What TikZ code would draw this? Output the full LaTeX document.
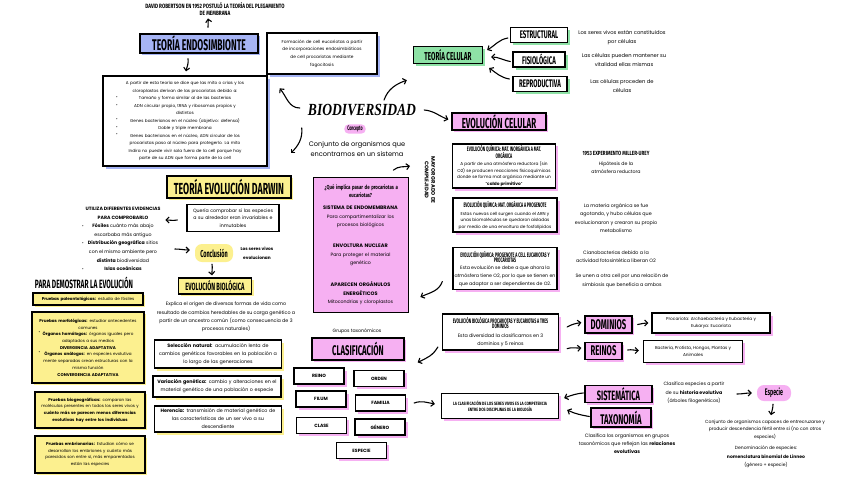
\documentclass[tikz,border=0pt]{standalone}
\usepackage{fontspec}
\setmainfont{Poppins}
\newfontfamily\cond{Fira Sans}[FakeStretch=0.55]
\newfontfamily\condw{Fira Sans}[FakeStretch=0.75]
\newfontfamily\biof{Liberation Serif}[FakeStretch=0.8]
\newfontfamily\dejav{DejaVu Sans}
\usetikzlibrary{arrows.meta,shadows,calc}
\definecolor{bluec}{HTML}{A6B4F5}
\definecolor{greenc}{HTML}{8EE2A6}
\definecolor{yellowc}{HTML}{FCF08F}
\definecolor{pinkc}{HTML}{F6B0F2}
\newcommand\fs[2]{\fontsize{#1}{#2}\selectfont}
\newcommand\boxtitle{\cond\bfseries\fs{6.5}{6.5}}
\newcommand\boxbody{\normalfont\fs{4.3}{6.5}}
\newcommand\bul{{\dejav •}}
\tikzset{
  wbox/.style={draw=black, line width=1.3pt, fill=white, inner sep=2pt, align=center},
  sh/.style={drop shadow={fill=#1,opacity=1,shadow xshift=2.5pt,shadow yshift=-2.5pt}},
  cbox/.style={draw=black, line width=1.3pt, fill=#1, inner sep=1pt, align=center,
     drop shadow={fill=#1,opacity=1,shadow xshift=2pt,shadow yshift=-2pt}},
  arr/.style={-{Straight Barb[length=3pt,width=6pt]}, line width=1.1pt, line cap=round},
  txt/.style={align=center, inner sep=0pt},
  bulnode/.style={inner sep=0pt, font=\fs{3.5}{4}},
  taxbox/.style={wbox, sh=pinkc, minimum width=50, minimum height=16, inner sep=1pt, font=\bfseries\fs{4.6}{5}},
  bigt/.style={font=\cond\bfseries\fs{#1}{#1}},
}
\begin{document}
\begin{tikzpicture}[x=1pt,y=-1pt]
\useasboundingbox (0,0) rectangle (848,477);
\fill[white] (0,0) rectangle (848,477);

% ---------- Teoria endosimbionte ----------
\node[txt,font=\condw\bfseries\fs{6.2}{7.6}] (rob) at (215,9) {DAVID ROBERTSON EN 1952 POSTULÓ LA TEORÍA DEL PLEGAMIENTO\\DE MEMBRANA};
\node[cbox=bluec, minimum width=118, minimum height=19, bigt=15.5] (endo) at (199,43.5) {TEORÍA ENDOSIMBIONTE};
\node[wbox, sh=bluec, minimum width=164, minimum height=90, text width=158, font=\fs{4.2}{7.5}] (endob) at (185,121)
 {A partir de esta teoría se dice que las mito o crias y los\\cloroplastos derivan de las procariotas debido a:\\Tamaño y forma similar al de las bacterias\\ADN circular propio, tRNA y ribosomas propios y\\distintos\\Genes bacterianos en el núcleo (objetivo: defensa)\\Doble y triple membrana\\Genes bacterianos en el núcleo, ADN circular de los\\procariotas paso al núcleo para protegerlo. La mito\\Indira no puede vivir sola fuera de la cell porque hay\\parte de su ADN que forma parte de la cell};
\foreach \i/\yy in {1/97.7,2/105.3,3/119.3,4/127.3,5/135}
  \node[bulnode] (eb\i) at (117,\yy) {\bul};
\node[wbox, sh=bluec, minimum width=110, minimum height=41, text width=104, font=\fs{4.3}{7.6}] (form) at (322,53.5)
 {Formación de cell eucariotas a partir\\de incorporaciones endosimbióticos\\de cell procariotas mediante\\fagocitosis};

% ---------- centre ----------
\node[txt, font=\biof\bfseries\itshape\fs{17}{17}] (bio) at (362,110) {BIODIVERSIDAD};
\node[fill=pinkc, rounded corners=4pt, inner xsep=3pt, inner ysep=1.5pt, font=\cond\bfseries\fs{6.5}{6.5}] (conc) at (355,129) {Concepto};
\node[txt, font=\fs{6.6}{10}] (conj) at (357,149) {Conjunto de organismos que\\encontramos en un sistema};

% ---------- Teoria celular ----------
\node[cbox=greenc, minimum width=69, minimum height=17, bigt=11.5] (tcel) at (448,55) {TEORÍA CELULAR};
\node[wbox, sh=greenc, minimum width=57, minimum height=15, inner sep=1pt, bigt=11] (estr) at (539,35) {ESTRUCTURAL};
\node[wbox, sh=greenc, minimum width=52, minimum height=15, inner sep=1pt, bigt=11] (fisi) at (539,59.5) {FISIOLÓGICA};
\node[wbox, sh=greenc, minimum width=54, minimum height=15, inner sep=1pt, bigt=11] (repr) at (540,84) {REPRODUCTIVA};
\node[txt, font=\fs{5.2}{9}] (t1) at (622,37.5) {Los seres vivos están constituidos\\por células};
\node[txt, font=\fs{5.2}{9}] (t2) at (624,59.5) {Las células pueden mantener su\\vitalidad ellas mismas};
\node[txt, font=\fs{5.2}{9}] (t3) at (622,85.5) {Las células proceden de\\células};

% ---------- Evolucion celular ----------
\node[cbox=pinkc, minimum width=94, minimum height=17, bigt=14.5] (evc) at (499,121.5) {EVOLUCIÓN CELULAR};
\node[wbox, sh=pinkc, minimum width=103, minimum height=44, inner sep=1.5pt, font=\boxbody] (ba) at (504,166)
 {\boxtitle EVOLUCIÓN QUÍMICA: MAT. INORGÁNICA A MAT.\\[-1.5pt]\boxtitle ORGÁNICA\\[1.2pt]\boxbody A partir de una atmósfera reductora (sin\\O2) se producen reacciones fisicoquímicas\\donde se forma mat orgánica mediante un\\“\textbf{caldo primitivo}”};
\node[wbox, sh=pinkc, minimum width=104, minimum height=34, inner sep=1.5pt, font=\boxbody] (bb) at (505,215)
 {\boxtitle EVOLUCIÓN QUÍMICA: MAT. ORGÁNICA A PROGENOTE\\[1.5pt]\boxbody Estas nuevas cell surgen cuando el ARN y\\unas biomoléculas se quedaron aisladas\\por medio de una envoltura de fosfolípidos};
\node[wbox, sh=pinkc, minimum width=104, minimum height=42, inner sep=1.5pt, font=\normalfont\fs{4.7}{8}] (bc) at (505,268.5)
 {\boxtitle EVOLUCIÓN QUÍMICA: PROGENOTE A CELL EUCARIOTAS Y\\[-3pt]\boxtitle PROCARIOTAS\\[-1pt]\normalfont\fs{4.7}{8}Esta evolución se debe a que ahora la\\atmósfera tiene O2, por lo que se tienen en\\que adaptar a ser dependientes de O2.};
\node[wbox, sh=pinkc, minimum width=116, minimum height=36, inner sep=1.5pt, font=\normalfont\fs{4.8}{7.5}] (bd) at (500.5,332)
 {\boxtitle EVOLUCIÓN BIOLÓGICA PROCARIOTAS Y EUCARIOTAS A TRES\\[-2pt]\boxtitle DOMINIOS\\[1.5pt]\normalfont\fs{4.8}{7.5}Esta diversidad la clasificamos en 3\\dominios y 5 reinos};
\node[txt, rotate=-90, font=\bfseries\fs{5.2}{6.5}] (mg) at (430,180) {MAYOR GRADO DE\\COMPLEJIDAD};
\node[txt, font=\condw\bfseries\fs{6}{6}] (mu) at (616,153) {1953 EXPERIMENTO MILLER-UREY};
\node[txt, font=\fs{4.7}{8.5}] (hip) at (616,167.5) {Hipótesis de la\\atmósfera reductora};
\node[txt, font=\fs{4.8}{8.5}] (mat) at (616,218) {La materia orgánica se fue\\agotando, y hubo células que\\evolucionaron y crearon su propio\\metabolismo};
\node[txt, font=\fs{4.8}{8.5}] (cia) at (616,256.5) {Cianobacterias debido a la\\actividad fotosintética liberan O2};
\node[txt, font=\fs{4.8}{8.5}] (simb) at (622,280.5) {Se unen a otra cell por una relación de\\simbiosis que beneficia a ambos};

% ---------- pink box ----------
\node[draw=black, line width=0.8pt, fill=pinkc, minimum width=95, minimum height=135, text width=89, align=center, inner sep=2pt, font=\fs{4.7}{8.5}] (pk) at (360.5,245)
 {{\condw\bfseries\fs{5.8}{8} ¿Qué implica pasar de procariotas a\\eucariotas?\par}\vspace{3.5pt}{\bfseries\fs{5}{8.5}SISTEMA DE ENDOMEMBRANA}\\Para compartimentalizar los\\procesos biológicos\\[12.5pt]{\bfseries\fs{5}{8.5}ENVOLTURA NUCLEAR}\\Para proteger el material\\genético\\[13.5pt]{\bfseries\fs{5}{8.5}APARECEN ORGÁNULOS}\\{\bfseries\fs{5}{8.5}ENERGÉTICOS}\\Mitocondrias y cloroplastos};

% ---------- Darwin ----------
\node[cbox=yellowc, minimum width=124, minimum height=22, bigt=16] (darw) at (229,187) {TEORÍA EVOLUCIÓN DARWIN};
\node[wbox, minimum width=92, minimum height=27, text width=88, font=\fs{4.7}{7.5}] (quer) at (233,218) {Quería comprobar si las especies\\a su alrededor eran invariables e\\inmutables};
\node[txt, font=\fs{4.7}{8.6}] (util) at (123,239) {\textbf{UTILIZA DIFERENTES EVIDENCIAS}\\\textbf{PARA COMPROBARLO}\\\textbf{Fósiles} cuánto más abajo\\escarbaba más antiguo\\\textbf{Distribución geográfica} sitios\\con el mismo ambiente pero\\\textbf{distinta} biodiversidad\\\textbf{Islas oceánicas}};
\foreach \i/\yy in {1/226.5,2/244,3/269.5}
  \node[bulnode] (ub\i) at (83,\yy) {\bul};
\node[fill=yellowc, rounded corners=7pt, minimum width=38, minimum height=18, inner sep=1pt, bigt=10] (concl) at (214,253) {Conclusión};
\node[txt, font=\bfseries\fs{4.3}{8.5}] (seres) at (257,253.5) {Los seres vivos\\evolucionan};
\node[cbox=yellowc, minimum width=73, minimum height=16, bigt=10.5] (evbio) at (215,286) {EVOLUCIÓN BIOLÓGICA};
\node[txt, font=\fs{4.8}{8.2}] (expl) at (226,317) {Explica el origen de diversas formas de vida como\\resultado de cambios heredables de su carga genético a\\partir de un ancestro común (como consecuencia de 3\\procesos naturales)};
\node[wbox, sh=yellowc, minimum width=127, minimum height=28, text width=123, font=\fs{4.8}{8}] (sel) at (218,354) {\textbf{Selección natural:} acumulación lenta de\\cambios genéticos favorables en la población a\\lo largo de las generaciones};
\node[wbox, sh=yellowc, minimum width=128, minimum height=21, text width=124, font=\fs{4.8}{8}] (var) at (217,386.5) {\textbf{Variación genética:} cambio y alteraciones en el\\material genético de una población o especie};
\node[wbox, sh=yellowc, minimum width=127, minimum height=26, text width=123, font=\fs{4.8}{8}] (her) at (218,419) {\textbf{Herencia:} transmisión de material genético de\\las características de un ser vivo a su\\descendiente};

% ---------- Para demostrar ----------
\node[txt, bigt=12] (pde) at (84,283) {PARA DEMOSTRAR LA EVOLUCIÓN};
\node[cbox=yellowc, minimum width=110, minimum height=12, text width=106, font=\fs{4.1}{6.7}] (pp) at (88,299) {\textbf{Pruebas paleontológicas:} estudio de fósiles};
\node[cbox=yellowc, minimum width=112, minimum height=71, text width=106, font=\fs{4.1}{6.7}] (pm) at (88,347.5) {\textbf{Pruebas morfológicas:} estudiar antecedentes\\comunes\\\textbf{Órganos homólogos:} órganos iguales pero\\adaptados a sus medios\\\textbf{DIVERGENCIA ADAPTATIVA}\\\textbf{Órganos análogos:} en especies evolutiva\\mente separadas crean estructuras con la\\misma función\\\textbf{CONVERGENCIA ADAPTATIVA}};
\foreach \i/\yy in {1/332.7,2/352.7}
  \node[bulnode] (mb\i) at (39.5,\yy) {\bul};
\node[cbox=yellowc, minimum width=110, minimum height=36, text width=106, font=\fs{4.1}{6.7}] (pb) at (90,410) {\textbf{Pruebas biogeográficas:} comparan las\\moléculas presentes en todos los seres vivos y\\\textbf{cuánto más se parecen menos diferencias}\\\textbf{evolutivas hay entre los individuos}};
\node[cbox=yellowc, minimum width=110, minimum height=37, text width=106, font=\fs{4.1}{6.7}] (pe) at (90,454.5) {\textbf{Pruebas embrionarias:} Estudian cómo se\\desarrollan los embriones y cuánto más\\parecidos son entre sí, más emparentados\\están las especies};

% ---------- Clasificacion ----------
\node[txt, font=\fs{4.7}{5}] (grp) at (357,331.5) {Grupos taxonómicos};
\node[cbox=pinkc, minimum width=92, minimum height=22, bigt=14] (clas) at (358,349) {CLASIFICACIÓN};
\node[taxbox] (reino) at (319,376) {REINO};
\node[taxbox] (orden) at (379,378.5) {ORDEN};
\node[taxbox] (filum) at (321,399) {FILUM};
\node[taxbox] (fam) at (380.5,403) {FAMILIA};
\node[taxbox] (clase) at (321.5,425.5) {CLASE};
\node[taxbox] (gen) at (380,427) {GÉNERO};
\node[taxbox] (espe) at (361.5,450.5) {ESPECIE};
\node[wbox, sh=pinkc, minimum width=117, minimum height=25, inner sep=1.5pt, font=\condw\bfseries\fs{4.7}{5.8}] (be) at (500,406) {LA CLASIFICACIÓN DE LOS SERES VIVOS ES LA COMPETENCIA\\ENTRE DOS DISCIPLINAS DE LA BIOLOGÍA};
\node[cbox=pinkc, minimum width=47, minimum height=17, bigt=14] (dom) at (608.5,324.5) {DOMINIOS};
\node[wbox, sh=pinkc, minimum width=118, minimum height=20, font=\fs{4.3}{7.5}] (proc) at (711,323) {Procariota: Archaebacteria y Eubacteria y\\Eukarya: Eucariota};
\node[cbox=pinkc, minimum width=37, minimum height=17, bigt=14] (reinos) at (603.5,351) {REINOS};
\node[wbox, sh=pinkc, minimum width=99, minimum height=22, font=\fs{4.3}{7.5}] (bact) at (693,351.5) {Bacteria, Protista, Hongos, Plantas y\\Animales};
\node[cbox=pinkc, minimum width=67, minimum height=17, bigt=13.5] (sist) at (618.5,394) {SISTEMÁTICA};
\node[cbox=pinkc, minimum width=60, minimum height=19, bigt=14] (taxo) at (621,417.5) {TAXONOMÍA};
\node[txt, font=\fs{4.7}{8.5}] (clsp) at (694,393) {Clasifica especies a partir\\de su \textbf{historia evolutiva}\\(árboles filogenéticos)};
\node[fill=pinkc, rounded corners=7pt, minimum width=34, minimum height=16, inner sep=1pt, bigt=9.5] (esp) at (774,393) {Especie};
\node[txt, font=\fs{4.5}{7.5}] (cjsp) at (765,429.5) {Conjunto de organismos capaces de entrecruzarse y\\producir descendencia fértil entre sí (no con otros\\especies)};
\node[txt, font=\fs{4.5}{8.7}] (den) at (766,457) {Denominación de especies:\\\textbf{nomenclatura binomial de Linneo}\\(género + especie)};
\node[txt, font=\fs{4.8}{8}] (clorg) at (627,444) {Clasifica los organismos en grupos\\taxonómicos que reflejan las \textbf{relaciones}\\\textbf{evolutivas}};

% ---------- arrows ----------
\draw[arr] ($(endo.north)+(9,-6)$) to[out=95,in=-80] ($(rob.south)+(-7,2.5)$);
\draw[arr] ($(endo.south)+(-11,5)$) to[out=-80,in=80] ($(endob.north)+(1,-4)$);
\draw[arr] ($(bio.west)+(-8,-2)$) to[out=180,in=-50] ($(endob.north east)+(12,13)$);
\draw[arr] ($(bio.north)+(22,-4)$) to[out=70,in=200] ($(tcel.south west)+(-6,16)$);
\draw[arr] ($(bio.east)+(8,0)$) to[out=-5,in=160] ($(evc.west)+(-3,-2)$);
\draw[arr] ($(bio.south west)+(-6,12)$) to[out=-85,in=45] ($(darw.north east)+(-1,-22)$);
\draw[arr] ($(estr.west)+(-2,3)$) to[out=190,in=30] ($(tcel.east)+(4,-5)$);
\draw[arr] ($(fisi.west)+(-2,2)$) to[out=170,in=0] ($(tcel.east)+(8,2)$);
\draw[arr] ($(repr.west)+(-3,-5)$) to[out=170,in=-35] ($(tcel.east)+(6,13)$);
\draw[arr] ($(bc.west)+(-10,13)$) to[out=-110,in=25] ($(pk.east)+(12,52)$);
\draw[arr] ($(pk.north east)+(-15,-7)$) to[out=40,in=190] ($(mg.center)+(-20,-14)$);
\draw[arr] ($(quer.west)+(-9,2)$) to[out=190,in=0] ($(quer.west)+(-21,2)$);
\draw[arr] ($(concl.west)+(-20,-4)$) to[out=0,in=180] ($(concl.west)+(-5,-3)$);
\draw[arr] ($(concl.south)+(-2,2)$) to[out=-80,in=95] ($(evbio.north)+(-3,-2)$);
\draw[arr] ($(bd.west)+(-4,15)$) to[out=-120,in=25] ($(clas.north east)+(13,25)$);
\draw[arr] ($(fam.east)+(8,0)$) to[out=20,in=170] ($(be.west)+(-6,-2)$);
\draw[arr] ($(bd.east)+(8,-5)$) to[out=30,in=190] ($(dom.west)+(-3,-2)$);
\draw[arr] ($(bd.south east)+(8,-2)$) to[out=20,in=185] ($(reinos.west)+(-3,-3)$);
\draw[arr] ($(dom.east)+(5,0)$) to[out=10,in=180] ($(proc.west)+(-3,0)$);
\draw[arr] ($(reinos.east)+(5,-1)$) to[out=10,in=180] ($(bact.west)+(-4,-1)$);
\draw[arr] ($(sist.west)+(-1,-1)$) to[out=185,in=20] ($(be.east)+(5,-8)$);
\draw[arr] ($(taxo.west)+(-1,-1)$) to[out=170,in=-25] ($(be.east)+(8,4)$);
\draw[arr] ($(esp.west)+(-20,1)$) to[out=0,in=180] ($(esp.west)+(-5,0)$);
\draw[arr] ($(esp.south)+(-1,3)$) to[out=-90,in=80] ($(esp.south)+(-3,14)$);
\end{tikzpicture}
\end{document}
